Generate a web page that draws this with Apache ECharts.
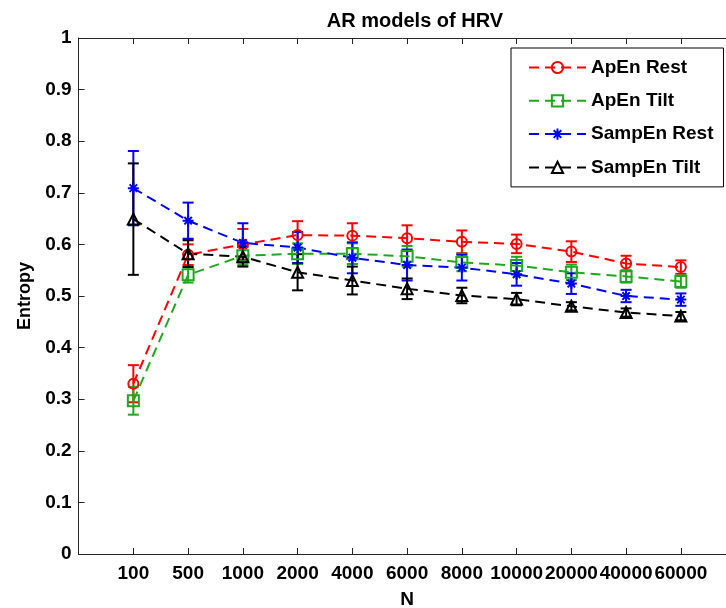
<!DOCTYPE html>
<html>
<head>
<meta charset="utf-8">
<script src="https://cdn.jsdelivr.net/npm/echarts@6/dist/echarts.min.js"></script>
<style>
  html, body { margin: 0; padding: 0; background: #fff; }
  #chart { width: 726px; height: 608px; }
</style>
</head>
<body>
<div id="chart"></div>
<script>
// Series length N (category labels on the x axis)
const sizes = ['100', '500', '1000', '2000', '4000', '6000', '8000', '10000', '20000', '40000', '60000'];

// Mean entropy and error-bar half-widths per series
const apEnRest      = [0.330, 0.580, 0.600, 0.618, 0.617, 0.612, 0.605, 0.601, 0.586, 0.563, 0.556];
const apEnRestErr   = [0.036, 0.020, 0.030, 0.027, 0.024, 0.025, 0.022, 0.018, 0.020, 0.015, 0.013];
const apEnTilt      = [0.297, 0.541, 0.578, 0.582, 0.582, 0.577, 0.565, 0.559, 0.546, 0.538, 0.528];
const apEnTiltErr   = [0.027, 0.015, 0.018, 0.020, 0.020, 0.020, 0.017, 0.017, 0.015, 0.012, 0.012];
const sampEnRest    = [0.709, 0.646, 0.603, 0.594, 0.574, 0.560, 0.555, 0.542, 0.524, 0.500, 0.493];
const sampEnRestErr = [0.072, 0.035, 0.038, 0.030, 0.030, 0.030, 0.025, 0.022, 0.020, 0.012, 0.012];
const sampEnTilt    = [0.649, 0.582, 0.576, 0.546, 0.530, 0.514, 0.501, 0.494, 0.480, 0.468, 0.461];
const sampEnTiltErr = [0.108, 0.026, 0.019, 0.035, 0.027, 0.020, 0.015, 0.012, 0.008, 0.008, 0.008];

const yTicks = { min: 0, max: 1, step: 0.1 };

const FONT = '"Liberation Sans", Arial, sans-serif';
const AXIS_COLOR = '#262626';
const ASTERISK = 'path://M5,0L5,10M0,5L10,5M1.6,1.6L8.4,8.4M8.4,1.6L1.6,8.4';

const groups = [
  { name: 'ApEn Rest',   vals: apEnRest,   errs: apEnRestErr,   color: '#ff0000', symbol: 'circle',   size: 10 },
  { name: 'ApEn Tilt',   vals: apEnTilt,   errs: apEnTiltErr,   color: '#1fa81f', symbol: 'rect',     size: 11 },
  { name: 'SampEn Rest', vals: sampEnRest, errs: sampEnRestErr, color: '#0000ff', symbol: ASTERISK,   size: 11 },
  { name: 'SampEn Tilt', vals: sampEnTilt, errs: sampEnTiltErr, color: '#000000', symbol: 'triangle', size: 11 }
];

// Vertical error bar with caps, positioned through the axis scales
function errorBarRenderer(color) {
  return function (params, api) {
    const x = api.value(0);
    const lo = api.coord([x, api.value(1)]);
    const hi = api.coord([x, api.value(2)]);
    const cap = 5.5;
    const style = { stroke: color, lineWidth: 2 };
    return {
      type: 'group',
      children: [
        { type: 'line', shape: { x1: lo[0], y1: lo[1], x2: hi[0], y2: hi[1] }, style },
        { type: 'line', shape: { x1: hi[0] - cap, y1: hi[1], x2: hi[0] + cap, y2: hi[1] }, style },
        { type: 'line', shape: { x1: lo[0] - cap, y1: lo[1], x2: lo[0] + cap, y2: lo[1] }, style }
      ]
    };
  };
}

const series = [];
groups.forEach(g => {
  series.push({
    name: g.name + ' err',
    type: 'custom',
    renderItem: errorBarRenderer(g.color),
    data: g.vals.map((v, i) => [i + 1, v - g.errs[i], v + g.errs[i]]),
    encode: { x: 0, y: [1, 2] },
    clip: false,
    silent: true
  });
  series.push({
    name: g.name,
    type: 'line',
    data: g.vals.map((v, i) => [i + 1, v]),
    symbol: g.symbol,
    symbolSize: g.size,
    showSymbol: true,
    clip: false,
    lineStyle: { color: g.color, width: 2, type: [10, 6] },
    itemStyle: { color: 'transparent', borderColor: g.color, borderWidth: 2 },
    emphasis: { disabled: true }
  });
});

const tickLabel = { fontFamily: FONT, fontWeight: 'bold', fontSize: 19, color: '#000' };

const option = {
  animation: false,
  backgroundColor: '#fff',
  title: {
    text: 'AR models of HRV',
    left: 410,
    textAlign: 'center',
    top: 6,
    textStyle: { fontFamily: FONT, fontWeight: 'bold', fontSize: 20, color: '#000' }
  },
  legend: {
    data: groups.map(g => g.name),
    orient: 'vertical',
    left: 511,
    top: 48,
    padding: [10, 10, 10, 17],
    itemWidth: 57,
    itemHeight: 14,
    itemGap: 14.3,
    backgroundColor: '#fff',
    borderColor: '#000',
    borderWidth: 1,
    borderRadius: 0,
    textStyle: { fontFamily: FONT, fontWeight: 'bold', fontSize: 19, color: '#000' }
  },
  grid: { left: 78.6, top: 38, width: 657, height: 516, containLabel: false, outerBoundsMode: 'none' },
  xAxis: [
    {
      type: 'value', min: 0, max: sizes.length + 1, interval: 1,
      name: 'N', nameLocation: 'middle', nameGap: 36,
      nameTextStyle: { fontFamily: FONT, fontWeight: 'bold', fontSize: 19, color: '#000' },
      axisLine: { show: true, lineStyle: { color: AXIS_COLOR, width: 1 } },
      axisTick: { show: true, inside: true, length: 6, lineStyle: { color: AXIS_COLOR } },
      axisLabel: Object.assign({
        margin: 10,
        hideOverlap: false,
        formatter: v => (v >= 1 && v <= sizes.length) ? sizes[v - 1] : ''
      }, tickLabel),
      splitLine: { show: false }
    },
    {
      type: 'value', position: 'top', min: 0, max: sizes.length + 1, interval: 1,
      axisLine: { show: true, lineStyle: { color: AXIS_COLOR, width: 1 } },
      axisTick: { show: true, inside: true, length: 6, lineStyle: { color: AXIS_COLOR } },
      axisLabel: { show: false },
      splitLine: { show: false }
    }
  ],
  yAxis: {
    type: 'value', min: yTicks.min, max: yTicks.max, interval: yTicks.step,
    name: 'Entropy', nameLocation: 'middle', nameGap: 45, nameRotate: 90,
    nameTextStyle: { fontFamily: FONT, fontWeight: 'bold', fontSize: 18, color: '#000' },
    axisLine: { show: true, lineStyle: { color: AXIS_COLOR, width: 1 } },
    axisTick: { show: true, inside: true, length: 6, lineStyle: { color: AXIS_COLOR } },
    axisLabel: Object.assign({ margin: 7, formatter: v => String(Math.round(v * 10) / 10) }, tickLabel),
    splitLine: { show: false }
  },
  series: series
};

const chart = echarts.init(document.getElementById('chart'), null, { renderer: 'canvas' });
chart.setOption(option);
</script>
</body>
</html>
